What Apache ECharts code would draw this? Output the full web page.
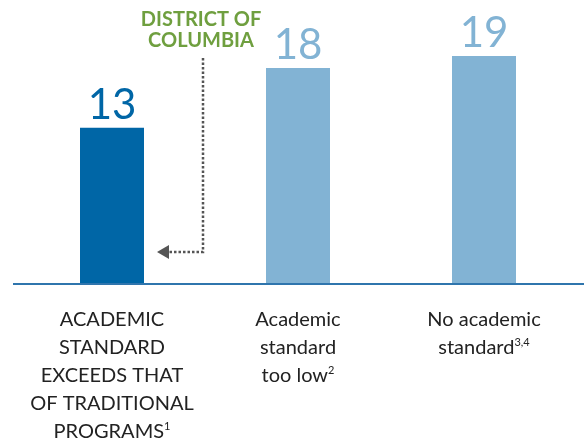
<!DOCTYPE html>
<html>
<head>
<meta charset="utf-8">
<script src="https://cdn.jsdelivr.net/npm/echarts@6/dist/echarts.min.js"></script>
<style>
    html, body { margin: 0; padding: 0; background: #fff; }
    #chart { width: 584px; height: 447px; }
</style>
</head>
<body>
<div id="chart"></div>
<script>
// categories (lines of each label) and footnote marks
var categories = [
    'ACADEMIC\nSTANDARD\nEXCEEDS THAT\nOF TRADITIONAL\nPROGRAMS',
    'Academic\nstandard\ntoo low',
    'No academic\nstandard'
];
var footnotes = ['1', '2', '3,4'];
var values = [13, 18, 19];
var barColors = ['#0066a6', '#82b3d4', '#82b3d4'];
var calloutText = 'DISTRICT OF\nCOLUMBIA';

var chart = echarts.init(document.getElementById('chart'));

var option = {
    animation: false,
    grid: { left: 19, right: 7, top: 44, bottom: 164 },
    xAxis: {
        type: 'category',
        data: categories.map(function (c, i) { return c + '{sup|' + footnotes[i] + '}'; }),
        axisLine: { show: false },
        axisTick: { show: false },
        axisLabel: {
            interval: 0,
            margin: 23,
            fontFamily: 'Lato',
            fontSize: 20,
            lineHeight: 28,
            color: '#222',
            align: 'center',
            rich: {
                sup: {
                    fontFamily: 'Lato', fontSize: 11, color: '#222',
                    verticalAlign: 'middle', padding: [0, 0, 12, 0]
                }
            }
        }
    },
    yAxis: {
        type: 'value',
        min: 0,
        max: 20,
        show: false,
        splitLine: { show: false }
    },
    series: [{
        type: 'bar',
        barWidth: 64,
        data: values.map(function (v, i) {
            return {
                value: v,
                itemStyle: { color: barColors[i] },
                label: { color: barColors[i] }
            };
        }),
        label: {
            show: true,
            position: 'top',
            distance: 1,
            fontFamily: 'Lato',
            fontSize: 42
        }
    }]
};
chart.setOption(option);

// baseline and the dotted callout arrow pointing at the first bar
var base = chart.convertToPixel({ yAxisIndex: 0 }, 0);
var c0 = chart.convertToPixel({ xAxisIndex: 0 }, 0);
var arrowY = Math.round(chart.convertToPixel({ yAxisIndex: 0 }, 2.6));
var vx = Math.round(c0 + 91);
var tipX = Math.round(c0 + 45);
chart.setOption({
    graphic: [
        {
            type: 'line',
            shape: { x1: 13, y1: base + 1, x2: 584, y2: base + 1 },
            style: { stroke: '#2f75ad', lineWidth: 2 }
        },
        {
            type: 'polyline',
            shape: { points: [[vx, 58], [vx, arrowY], [tipX + 12, arrowY]] },
            style: { stroke: '#555', lineWidth: 2.5, lineDash: [2.5, 2], fill: null }
        },
        {
            type: 'polygon',
            shape: { points: [[tipX, arrowY], [tipX + 12, arrowY - 7], [tipX + 12, arrowY + 7]] },
            style: { fill: '#555' }
        },
        {
            type: 'text',
            x: vx - 2,
            y: 9,
            style: {
                text: calloutText,
                align: 'center',
                fontFamily: 'Lato',
                fontWeight: 'bold',
                fontSize: 20,
                lineHeight: 21,
                fill: '#6f9f3f'
            }
        }
    ]
});
</script>
</body>
</html>
